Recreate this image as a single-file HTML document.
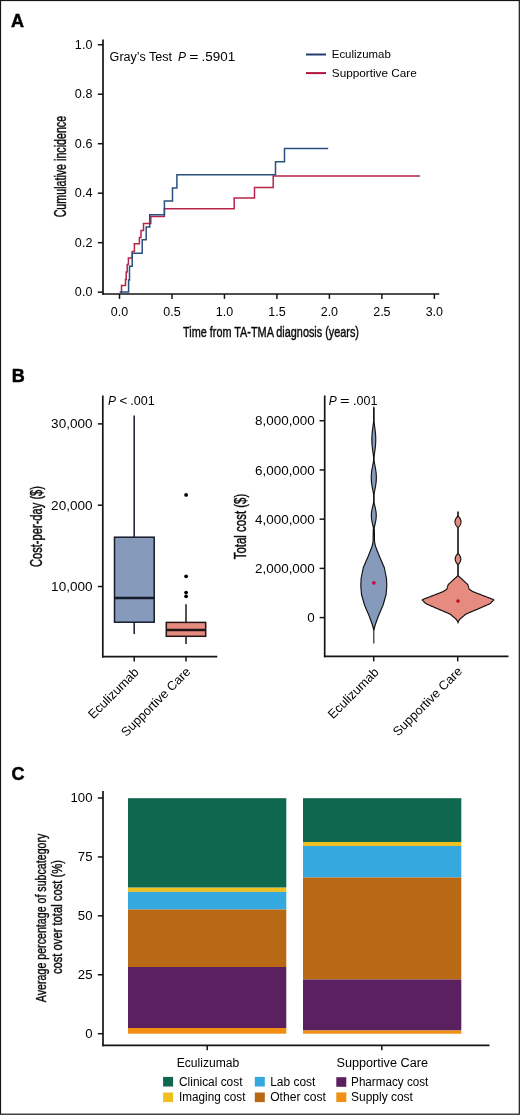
<!DOCTYPE html><html><head><meta charset="utf-8"><style>
html,body{margin:0;padding:0;background:#fff;}
svg{display:block;font-family:"Liberation Sans", sans-serif;}
</style></head><body>
<div style="will-change:transform">
<svg width="520" height="1115" viewBox="0 0 520 1115">
<rect x="0" y="0" width="520" height="1115" fill="#fff"/>
<rect x="0.5" y="0.5" width="518.8" height="1113.7" fill="none" stroke="#151515" stroke-width="1.2"/>
<text x="11.0" y="26.9" font-size="18" text-anchor="start" font-weight="bold" fill="#000" stroke="#000" stroke-width="0.5">A</text>
<line x1="103.0" y1="39.6" x2="103.0" y2="294.8" stroke="#151515" stroke-width="1.7" />
<line x1="102.2" y1="294.0" x2="439.2" y2="294.0" stroke="#151515" stroke-width="1.7" />
<line x1="97.8" y1="292.15" x2="103.0" y2="292.15" stroke="#151515" stroke-width="1.5" />
<text x="92.4" y="296.34999999999997" font-size="12" text-anchor="end" textLength="17.51" lengthAdjust="spacingAndGlyphs" >0.0</text>
<line x1="97.8" y1="242.66999999999996" x2="103.0" y2="242.66999999999996" stroke="#151515" stroke-width="1.5" />
<text x="92.4" y="246.86999999999995" font-size="12" text-anchor="end" textLength="17.51" lengthAdjust="spacingAndGlyphs" >0.2</text>
<line x1="97.8" y1="193.18999999999997" x2="103.0" y2="193.18999999999997" stroke="#151515" stroke-width="1.5" />
<text x="92.4" y="197.38999999999996" font-size="12" text-anchor="end" textLength="17.51" lengthAdjust="spacingAndGlyphs" >0.4</text>
<line x1="97.8" y1="143.70999999999998" x2="103.0" y2="143.70999999999998" stroke="#151515" stroke-width="1.5" />
<text x="92.4" y="147.90999999999997" font-size="12" text-anchor="end" textLength="17.51" lengthAdjust="spacingAndGlyphs" >0.6</text>
<line x1="97.8" y1="94.22999999999996" x2="103.0" y2="94.22999999999996" stroke="#151515" stroke-width="1.5" />
<text x="92.4" y="98.42999999999996" font-size="12" text-anchor="end" textLength="17.51" lengthAdjust="spacingAndGlyphs" >0.8</text>
<line x1="97.8" y1="44.74999999999997" x2="103.0" y2="44.74999999999997" stroke="#151515" stroke-width="1.5" />
<text x="92.4" y="48.949999999999974" font-size="12" text-anchor="end" textLength="17.51" lengthAdjust="spacingAndGlyphs" >1.0</text>
<line x1="119.5" y1="294.0" x2="119.5" y2="298.9" stroke="#151515" stroke-width="1.5" />
<text x="119.5" y="315.8" font-size="12" text-anchor="middle" textLength="17.35" lengthAdjust="spacingAndGlyphs" >0.0</text>
<line x1="171.975" y1="294.0" x2="171.975" y2="298.9" stroke="#151515" stroke-width="1.5" />
<text x="171.975" y="315.8" font-size="12" text-anchor="middle" textLength="17.35" lengthAdjust="spacingAndGlyphs" >0.5</text>
<line x1="224.45" y1="294.0" x2="224.45" y2="298.9" stroke="#151515" stroke-width="1.5" />
<text x="224.45" y="315.8" font-size="12" text-anchor="middle" textLength="17.35" lengthAdjust="spacingAndGlyphs" >1.0</text>
<line x1="276.925" y1="294.0" x2="276.925" y2="298.9" stroke="#151515" stroke-width="1.5" />
<text x="276.925" y="315.8" font-size="12" text-anchor="middle" textLength="17.35" lengthAdjust="spacingAndGlyphs" >1.5</text>
<line x1="329.4" y1="294.0" x2="329.4" y2="298.9" stroke="#151515" stroke-width="1.5" />
<text x="329.4" y="315.8" font-size="12" text-anchor="middle" textLength="17.35" lengthAdjust="spacingAndGlyphs" >2.0</text>
<line x1="381.875" y1="294.0" x2="381.875" y2="298.9" stroke="#151515" stroke-width="1.5" />
<text x="381.875" y="315.8" font-size="12" text-anchor="middle" textLength="17.35" lengthAdjust="spacingAndGlyphs" >2.5</text>
<line x1="434.35" y1="294.0" x2="434.35" y2="298.9" stroke="#151515" stroke-width="1.5" />
<text x="434.35" y="315.8" font-size="12" text-anchor="middle" textLength="17.35" lengthAdjust="spacingAndGlyphs" >3.0</text>
<text x="271" y="337.4" font-size="15.2" text-anchor="middle" textLength="176" lengthAdjust="spacingAndGlyphs" stroke="#1a1a1a" stroke-width="0.45">Time from TA-TMA diagnosis (years)</text>
<text x="65.7" y="166.6" font-size="15.6" text-anchor="middle" textLength="101.5" lengthAdjust="spacingAndGlyphs" transform="rotate(-90 65.7 166.6)" stroke="#1a1a1a" stroke-width="0.45">Cumulative incidence</text>
<text x="109.6" y="61.0" font-size="12" text-anchor="start" textLength="62.5" lengthAdjust="spacingAndGlyphs" >Gray’s Test</text>
<text x="178.0" y="61.0" font-size="12" text-anchor="start" font-style="italic" >P</text>
<text x="189.2" y="61.0" font-size="12" text-anchor="start" textLength="9.2" lengthAdjust="spacingAndGlyphs" >=</text>
<text x="201.6" y="61.0" font-size="12" text-anchor="start" textLength="33.6" lengthAdjust="spacingAndGlyphs" >.5901</text>
<line x1="306" y1="54.5" x2="326" y2="54.5" stroke="#22406e" stroke-width="2.0" />
<line x1="306" y1="73.1" x2="326" y2="73.1" stroke="#b3163e" stroke-width="2.0" />
<text x="331.8" y="58.4" font-size="11.6" text-anchor="start" textLength="59" lengthAdjust="spacingAndGlyphs" >Eculizumab</text>
<text x="331.8" y="77.2" font-size="11.6" text-anchor="start" textLength="85" lengthAdjust="spacingAndGlyphs" >Supportive Care</text>
<polyline points="119.8,292.1 121.5,292.1 121.5,285.4 125.5,285.4 125.5,279.6 126.2,279.6 126.2,272 127.2,272 127.2,264.6 128.4,264.6 128.4,258 132.2,258 132.2,251.5 134.4,251.5 134.4,243.8 139.4,243.8 139.4,237.5 141,237.5 141,230.6 143.5,230.6 143.5,223.5 150.8,223.5 150.8,216.5 164.4,216.5 164.4,208.8 234.2,208.8 234.2,198 254.5,198 254.5,187.5 273.2,187.5 273.2,175.9 420,175.9" fill="none" stroke="#b7264a" stroke-width="1.5" stroke-linejoin="miter"/>
<polyline points="119.8,292.1 128.6,292.1 128.6,280 129.5,280 129.5,266.2 132.2,266.2 132.2,253.3 142.2,253.3 142.2,239.8 146.2,239.8 146.2,226.9 149.7,226.9 149.7,214.8 164.4,214.8 164.4,200.9 172.5,200.9 172.5,188.1 176.9,188.1 176.9,174.8 275.5,174.8 275.5,161.8 284.5,161.8 284.5,148.6 328.2,148.6" fill="none" stroke="#29507f" stroke-width="1.5" stroke-linejoin="miter"/>
<text x="11.8" y="382.4" font-size="18" text-anchor="start" font-weight="bold" fill="#000" stroke="#000" stroke-width="0.5">B</text>
<line x1="102.8" y1="395.5" x2="102.8" y2="657.4" stroke="#151515" stroke-width="1.7" />
<line x1="102.0" y1="656.6" x2="217.3" y2="656.6" stroke="#151515" stroke-width="1.7" />
<line x1="97.8" y1="586.5" x2="102.8" y2="586.5" stroke="#151515" stroke-width="1.5" />
<text x="92.6" y="591.0" font-size="12" text-anchor="end" textLength="41.47" lengthAdjust="spacingAndGlyphs" >10,000</text>
<line x1="97.8" y1="505.19999999999993" x2="102.8" y2="505.19999999999993" stroke="#151515" stroke-width="1.5" />
<text x="92.6" y="509.69999999999993" font-size="12" text-anchor="end" textLength="41.47" lengthAdjust="spacingAndGlyphs" >20,000</text>
<line x1="97.8" y1="423.9" x2="102.8" y2="423.9" stroke="#151515" stroke-width="1.5" />
<text x="92.6" y="428.4" font-size="12" text-anchor="end" textLength="41.47" lengthAdjust="spacingAndGlyphs" >30,000</text>
<line x1="134.2" y1="656.6" x2="134.2" y2="661.6" stroke="#151515" stroke-width="1.5" />
<line x1="186.0" y1="656.6" x2="186.0" y2="661.6" stroke="#151515" stroke-width="1.5" />
<text x="42.2" y="526.5" font-size="16.0" text-anchor="middle" textLength="81" lengthAdjust="spacingAndGlyphs" transform="rotate(-90 42.2 526.5)" stroke="#1a1a1a" stroke-width="0.45">Cost-per-day ($)</text>
<text x="107.9" y="405.0" font-size="12" text-anchor="start" font-style="italic" >P</text>
<text x="119.6" y="405.0" font-size="12" text-anchor="start" textLength="7.8" lengthAdjust="spacingAndGlyphs" >&lt;</text>
<text x="130.3" y="405.0" font-size="12" text-anchor="start" textLength="24.4" lengthAdjust="spacingAndGlyphs" >.001</text>
<line x1="134.2" y1="415.5" x2="134.2" y2="537.2" stroke="#161b2a" stroke-width="1.5" />
<line x1="134.2" y1="622.2" x2="134.2" y2="634" stroke="#161b2a" stroke-width="1.5" />
<rect x="114.5" y="537.2" width="39.7" height="85" fill="#869abc" stroke="#161b2a" stroke-width="1.5"/>
<line x1="114.5" y1="598" x2="154.2" y2="598" stroke="#161b2a" stroke-width="2.4" />
<line x1="186" y1="604.3" x2="186" y2="622.4" stroke="#221515" stroke-width="1.5" />
<line x1="186" y1="636.3" x2="186" y2="643.9" stroke="#221515" stroke-width="1.5" />
<rect x="166.3" y="622.4" width="39.4" height="13.9" fill="#e68b80" stroke="#221515" stroke-width="1.5"/>
<line x1="166.3" y1="630" x2="205.7" y2="630" stroke="#221515" stroke-width="2.4" />
<circle cx="186.1" cy="494.9" r="1.9" fill="#000"/>
<circle cx="186.1" cy="576.3" r="1.9" fill="#000"/>
<circle cx="186.1" cy="592.6" r="1.9" fill="#000"/>
<circle cx="186.1" cy="596.3" r="1.9" fill="#000"/>
<text x="139.6" y="673.0" font-size="12.7" text-anchor="end" transform="rotate(-45 139.6 673.0)" >Eculizumab</text>
<text x="191.2" y="672.5" font-size="12.7" text-anchor="end" transform="rotate(-45 191.2 672.5)" >Supportive Care</text>
<line x1="324.7" y1="395.5" x2="324.7" y2="657.1999999999999" stroke="#151515" stroke-width="1.7" />
<line x1="323.9" y1="656.4" x2="508.5" y2="656.4" stroke="#151515" stroke-width="1.7" />
<line x1="319.6" y1="617.6" x2="324.7" y2="617.6" stroke="#151515" stroke-width="1.5" />
<text x="314.8" y="622.3000000000001" font-size="12" text-anchor="end" textLength="7.47" lengthAdjust="spacingAndGlyphs" >0</text>
<line x1="319.6" y1="568.38" x2="324.7" y2="568.38" stroke="#151515" stroke-width="1.5" />
<text x="314.8" y="573.08" font-size="12" text-anchor="end" textLength="59.78" lengthAdjust="spacingAndGlyphs" >2,000,000</text>
<line x1="319.6" y1="519.1600000000001" x2="324.7" y2="519.1600000000001" stroke="#151515" stroke-width="1.5" />
<text x="314.8" y="523.8600000000001" font-size="12" text-anchor="end" textLength="59.78" lengthAdjust="spacingAndGlyphs" >4,000,000</text>
<line x1="319.6" y1="469.94000000000005" x2="324.7" y2="469.94000000000005" stroke="#151515" stroke-width="1.5" />
<text x="314.8" y="474.64000000000004" font-size="12" text-anchor="end" textLength="59.78" lengthAdjust="spacingAndGlyphs" >6,000,000</text>
<line x1="319.6" y1="420.72" x2="324.7" y2="420.72" stroke="#151515" stroke-width="1.5" />
<text x="314.8" y="425.42" font-size="12" text-anchor="end" textLength="59.78" lengthAdjust="spacingAndGlyphs" >8,000,000</text>
<line x1="373.7" y1="656.4" x2="373.7" y2="661.4" stroke="#151515" stroke-width="1.5" />
<line x1="457.7" y1="656.4" x2="457.7" y2="661.4" stroke="#151515" stroke-width="1.5" />
<text x="245.8" y="526.5" font-size="15.8" text-anchor="middle" textLength="65.5" lengthAdjust="spacingAndGlyphs" transform="rotate(-90 245.8 526.5)" stroke="#1a1a1a" stroke-width="0.45">Total cost ($)</text>
<text x="328.7" y="404.8" font-size="12" text-anchor="start" font-style="italic" >P</text>
<text x="340.0" y="404.8" font-size="12" text-anchor="start" textLength="9.6" lengthAdjust="spacingAndGlyphs" >=</text>
<text x="353.0" y="404.8" font-size="12" text-anchor="start" textLength="24.4" lengthAdjust="spacingAndGlyphs" >.001</text>
<text x="379.4" y="673.0" font-size="12.7" text-anchor="end" transform="rotate(-45 379.4 673.0)" >Eculizumab</text>
<text x="462.9" y="672.0" font-size="12.7" text-anchor="end" transform="rotate(-45 462.9 672.0)" >Supportive Care</text>
<line x1="373.8" y1="406.5" x2="373.8" y2="643.4" stroke="#1a1a1a" stroke-width="1.1" />
<polygon points="373.65,408.00 373.65,408.50 373.65,409.00 373.65,409.50 373.65,410.00 373.65,410.50 373.65,411.00 373.65,411.50 373.65,412.00 373.65,412.50 373.65,413.00 373.65,413.50 373.65,414.00 373.65,414.50 373.65,415.00 373.65,415.50 373.65,416.00 373.65,416.50 373.65,417.00 373.65,417.50 373.65,418.00 373.65,418.50 373.65,419.00 373.65,419.50 373.65,420.00 373.65,420.50 373.65,421.00 373.61,421.50 373.56,422.00 373.50,422.50 373.44,423.00 373.37,423.50 373.31,424.00 373.24,424.50 373.17,425.00 373.10,425.50 373.03,426.00 372.96,426.50 372.89,427.00 372.82,427.50 372.75,428.00 372.69,428.50 372.62,429.00 372.56,429.50 372.49,430.00 372.43,430.50 372.37,431.00 372.32,431.50 372.26,432.00 372.21,432.50 372.17,433.00 372.12,433.50 372.08,434.00 372.04,434.50 372.00,435.00 371.97,435.50 371.94,436.00 371.92,436.50 371.90,437.00 371.88,437.50 371.87,438.00 371.86,438.50 371.85,439.00 371.85,439.50 371.85,440.00 371.86,440.50 371.87,441.00 371.88,441.50 371.90,442.00 371.92,442.50 371.94,443.00 371.97,443.50 372.00,444.00 372.04,444.50 372.08,445.00 372.12,445.50 372.17,446.00 372.21,446.50 372.26,447.00 372.32,447.50 372.37,448.00 372.43,448.50 372.49,449.00 372.56,449.50 372.62,450.00 372.69,450.50 372.75,451.00 372.82,451.50 372.89,452.00 372.96,452.50 373.03,453.00 373.10,453.50 373.17,454.00 373.24,454.50 373.31,455.00 373.37,455.50 373.44,456.00 373.50,456.50 373.56,457.00 373.61,457.50 373.65,458.00 373.65,458.50 373.65,459.00 373.65,459.50 373.65,460.00 373.59,460.50 373.52,461.00 373.43,461.50 373.35,462.00 373.25,462.50 373.16,463.00 373.06,463.50 372.97,464.00 372.87,464.50 372.77,465.00 372.67,465.50 372.57,466.00 372.48,466.50 372.38,467.00 372.29,467.50 372.20,468.00 372.11,468.50 372.02,469.00 371.94,469.50 371.86,470.00 371.79,470.50 371.72,471.00 371.65,471.50 371.59,472.00 371.53,472.50 371.48,473.00 371.43,473.50 371.39,474.00 371.35,474.50 371.32,475.00 371.30,475.50 371.28,476.00 371.26,476.50 371.25,477.00 371.25,477.50 371.25,478.00 371.26,478.50 371.28,479.00 371.30,479.50 371.32,480.00 371.35,480.50 371.39,481.00 371.43,481.50 371.48,482.00 371.53,482.50 371.59,483.00 371.65,483.50 371.72,484.00 371.79,484.50 371.86,485.00 371.94,485.50 372.02,486.00 372.11,486.50 372.20,487.00 372.29,487.50 372.38,488.00 372.48,488.50 372.57,489.00 372.67,489.50 372.77,490.00 372.87,490.50 372.97,491.00 373.06,491.50 373.16,492.00 373.25,492.50 373.35,493.00 373.43,493.50 373.52,494.00 373.59,494.50 373.65,495.00 373.65,495.50 373.65,496.00 373.65,496.50 373.65,497.00 373.65,497.50 373.65,498.00 373.65,498.50 373.65,499.00 373.65,499.50 373.65,500.00 373.65,500.50 373.65,501.00 373.65,501.50 373.65,502.00 373.57,502.50 373.48,503.00 373.37,503.50 373.25,504.00 373.14,504.50 373.02,505.00 372.89,505.50 372.77,506.00 372.65,506.50 372.53,507.00 372.41,507.50 372.30,508.00 372.19,508.50 372.08,509.00 371.98,509.50 371.88,510.00 371.80,510.50 371.71,511.00 371.64,511.50 371.57,512.00 371.52,512.50 371.47,513.00 371.42,513.50 371.39,514.00 371.37,514.50 371.35,515.00 371.35,515.50 371.35,516.00 371.37,516.50 371.39,517.00 371.42,517.50 371.47,518.00 371.52,518.50 371.57,519.00 371.64,519.50 371.71,520.00 371.80,520.50 371.88,521.00 371.98,521.50 372.08,522.00 372.19,522.50 372.30,523.00 372.41,523.50 372.53,524.00 372.65,524.50 372.77,525.00 372.89,525.50 373.02,526.00 373.14,526.50 373.25,527.00 373.37,527.50 373.48,528.00 373.57,528.50 373.30,529.00 373.29,529.50 373.28,530.00 373.28,530.50 373.27,531.00 373.26,531.50 373.25,532.00 373.24,532.50 373.23,533.00 373.23,533.50 373.22,534.00 373.21,534.50 373.20,535.00 373.19,535.50 373.18,536.00 373.18,536.50 373.17,537.00 373.16,537.50 373.15,538.00 373.14,538.50 373.13,539.00 373.12,539.50 373.12,540.00 373.11,540.50 373.10,541.00 373.03,541.50 372.97,542.00 372.90,542.50 372.83,543.00 372.77,543.50 372.70,544.00 372.55,544.50 372.40,545.00 372.25,545.50 372.10,546.00 371.95,546.50 371.80,547.00 371.61,547.50 371.43,548.00 371.24,548.50 371.05,549.00 370.86,549.50 370.68,550.00 370.49,550.50 370.30,551.00 370.10,551.50 369.89,552.00 369.69,552.50 369.49,553.00 369.28,553.50 369.08,554.00 368.88,554.50 368.67,555.00 368.47,555.50 368.27,556.00 368.06,556.50 367.86,557.00 367.64,557.50 367.43,558.00 367.21,558.50 367.00,559.00 366.78,559.50 366.57,560.00 366.35,560.50 366.14,561.00 365.92,561.50 365.71,562.00 365.49,562.50 365.28,563.00 365.06,563.50 364.85,564.00 364.63,564.50 364.42,565.00 364.20,565.50 363.99,566.00 363.77,566.50 363.56,567.00 363.34,567.50 363.22,568.00 363.12,568.50 363.01,569.00 362.91,569.50 362.81,570.00 362.71,570.50 362.61,571.00 362.51,571.50 362.40,572.00 362.30,572.50 362.20,573.00 362.10,573.50 362.00,574.00 361.89,574.50 361.79,575.00 361.69,575.50 361.59,576.00 361.49,576.50 361.39,577.00 361.28,577.50 361.18,578.00 361.10,578.50 361.08,579.00 361.06,579.50 361.04,580.00 361.02,580.50 361.00,581.00 360.98,581.50 360.96,582.00 360.94,582.50 360.92,583.00 360.90,583.50 360.88,584.00 360.86,584.50 360.84,585.00 360.82,585.50 360.81,586.00 360.85,586.50 360.89,587.00 360.93,587.50 360.97,588.00 361.01,588.50 361.05,589.00 361.09,589.50 361.13,590.00 361.17,590.50 361.22,591.00 361.26,591.50 361.30,592.00 361.34,592.50 361.38,593.00 361.42,593.50 361.46,594.00 361.50,594.50 361.64,595.00 361.79,595.50 361.93,596.00 362.07,596.50 362.22,597.00 362.36,597.50 362.50,598.00 362.65,598.50 362.79,599.00 362.94,599.50 363.08,600.00 363.22,600.50 363.37,601.00 363.51,601.50 363.65,602.00 363.80,602.50 363.94,603.00 364.08,603.50 364.23,604.00 364.37,604.50 364.51,605.00 364.69,605.50 364.90,606.00 365.12,606.50 365.33,607.00 365.55,607.50 365.76,608.00 365.98,608.50 366.19,609.00 366.41,609.50 366.62,610.00 366.84,610.50 367.05,611.00 367.27,611.50 367.48,612.00 367.70,612.50 367.91,613.00 368.13,613.50 368.34,614.00 368.56,614.50 368.77,615.00 368.99,615.50 369.20,616.00 369.38,616.50 369.56,617.00 369.74,617.50 369.92,618.00 370.10,618.50 370.28,619.00 370.46,619.50 370.64,620.00 370.82,620.50 371.00,621.00 371.18,621.50 371.36,622.00 371.54,622.50 371.72,623.00 371.90,623.50 372.08,624.00 372.26,624.50 372.41,625.00 372.55,625.50 372.69,626.00 372.83,626.50 372.97,627.00 373.11,627.50 373.24,628.00 373.38,628.50 373.52,629.00 373.66,629.50 373.80,630.00 373.80,630.00 373.94,629.50 374.08,629.00 374.22,628.50 374.36,628.00 374.49,627.50 374.63,627.00 374.77,626.50 374.91,626.00 375.05,625.50 375.19,625.00 375.34,624.50 375.52,624.00 375.70,623.50 375.88,623.00 376.06,622.50 376.24,622.00 376.42,621.50 376.60,621.00 376.78,620.50 376.96,620.00 377.14,619.50 377.32,619.00 377.50,618.50 377.68,618.00 377.86,617.50 378.04,617.00 378.22,616.50 378.40,616.00 378.61,615.50 378.83,615.00 379.04,614.50 379.26,614.00 379.47,613.50 379.69,613.00 379.90,612.50 380.12,612.00 380.33,611.50 380.55,611.00 380.76,610.50 380.98,610.00 381.19,609.50 381.41,609.00 381.62,608.50 381.84,608.00 382.05,607.50 382.27,607.00 382.48,606.50 382.70,606.00 382.91,605.50 383.09,605.00 383.23,604.50 383.37,604.00 383.52,603.50 383.66,603.00 383.80,602.50 383.95,602.00 384.09,601.50 384.23,601.00 384.38,600.50 384.52,600.00 384.66,599.50 384.81,599.00 384.95,598.50 385.10,598.00 385.24,597.50 385.38,597.00 385.53,596.50 385.67,596.00 385.81,595.50 385.96,595.00 386.10,594.50 386.14,594.00 386.18,593.50 386.22,593.00 386.26,592.50 386.30,592.00 386.34,591.50 386.38,591.00 386.43,590.50 386.47,590.00 386.51,589.50 386.55,589.00 386.59,588.50 386.63,588.00 386.67,587.50 386.71,587.00 386.75,586.50 386.79,586.00 386.78,585.50 386.76,585.00 386.74,584.50 386.72,584.00 386.70,583.50 386.68,583.00 386.66,582.50 386.64,582.00 386.62,581.50 386.60,581.00 386.58,580.50 386.56,580.00 386.54,579.50 386.52,579.00 386.50,578.50 386.42,578.00 386.32,577.50 386.21,577.00 386.11,576.50 386.01,576.00 385.91,575.50 385.81,575.00 385.71,574.50 385.60,574.00 385.50,573.50 385.40,573.00 385.30,572.50 385.20,572.00 385.09,571.50 384.99,571.00 384.89,570.50 384.79,570.00 384.69,569.50 384.59,569.00 384.48,568.50 384.38,568.00 384.26,567.50 384.04,567.00 383.83,566.50 383.61,566.00 383.40,565.50 383.18,565.00 382.97,564.50 382.75,564.00 382.54,563.50 382.32,563.00 382.11,562.50 381.89,562.00 381.68,561.50 381.46,561.00 381.25,560.50 381.03,560.00 380.82,559.50 380.60,559.00 380.39,558.50 380.17,558.00 379.96,557.50 379.74,557.00 379.54,556.50 379.33,556.00 379.13,555.50 378.93,555.00 378.72,554.50 378.52,554.00 378.32,553.50 378.11,553.00 377.91,552.50 377.71,552.00 377.50,551.50 377.30,551.00 377.11,550.50 376.93,550.00 376.74,549.50 376.55,549.00 376.36,548.50 376.18,548.00 375.99,547.50 375.80,547.00 375.65,546.50 375.50,546.00 375.35,545.50 375.20,545.00 375.05,544.50 374.90,544.00 374.83,543.50 374.77,543.00 374.70,542.50 374.63,542.00 374.57,541.50 374.50,541.00 374.49,540.50 374.48,540.00 374.48,539.50 374.47,539.00 374.46,538.50 374.45,538.00 374.44,537.50 374.43,537.00 374.43,536.50 374.42,536.00 374.41,535.50 374.40,535.00 374.39,534.50 374.38,534.00 374.38,533.50 374.37,533.00 374.36,532.50 374.35,532.00 374.34,531.50 374.33,531.00 374.32,530.50 374.32,530.00 374.31,529.50 374.30,529.00 374.03,528.50 374.12,528.00 374.23,527.50 374.35,527.00 374.46,526.50 374.58,526.00 374.71,525.50 374.83,525.00 374.95,524.50 375.07,524.00 375.19,523.50 375.30,523.00 375.41,522.50 375.52,522.00 375.62,521.50 375.72,521.00 375.80,520.50 375.89,520.00 375.96,519.50 376.03,519.00 376.08,518.50 376.13,518.00 376.18,517.50 376.21,517.00 376.23,516.50 376.25,516.00 376.25,515.50 376.25,515.00 376.23,514.50 376.21,514.00 376.18,513.50 376.13,513.00 376.08,512.50 376.03,512.00 375.96,511.50 375.89,511.00 375.80,510.50 375.72,510.00 375.62,509.50 375.52,509.00 375.41,508.50 375.30,508.00 375.19,507.50 375.07,507.00 374.95,506.50 374.83,506.00 374.71,505.50 374.58,505.00 374.46,504.50 374.35,504.00 374.23,503.50 374.12,503.00 374.03,502.50 373.95,502.00 373.95,501.50 373.95,501.00 373.95,500.50 373.95,500.00 373.95,499.50 373.95,499.00 373.95,498.50 373.95,498.00 373.95,497.50 373.95,497.00 373.95,496.50 373.95,496.00 373.95,495.50 373.95,495.00 374.01,494.50 374.08,494.00 374.17,493.50 374.25,493.00 374.35,492.50 374.44,492.00 374.54,491.50 374.63,491.00 374.73,490.50 374.83,490.00 374.93,489.50 375.03,489.00 375.12,488.50 375.22,488.00 375.31,487.50 375.40,487.00 375.49,486.50 375.58,486.00 375.66,485.50 375.74,485.00 375.81,484.50 375.88,484.00 375.95,483.50 376.01,483.00 376.07,482.50 376.12,482.00 376.17,481.50 376.21,481.00 376.25,480.50 376.28,480.00 376.30,479.50 376.32,479.00 376.34,478.50 376.35,478.00 376.35,477.50 376.35,477.00 376.34,476.50 376.32,476.00 376.30,475.50 376.28,475.00 376.25,474.50 376.21,474.00 376.17,473.50 376.12,473.00 376.07,472.50 376.01,472.00 375.95,471.50 375.88,471.00 375.81,470.50 375.74,470.00 375.66,469.50 375.58,469.00 375.49,468.50 375.40,468.00 375.31,467.50 375.22,467.00 375.12,466.50 375.03,466.00 374.93,465.50 374.83,465.00 374.73,464.50 374.63,464.00 374.54,463.50 374.44,463.00 374.35,462.50 374.25,462.00 374.17,461.50 374.08,461.00 374.01,460.50 373.95,460.00 373.95,459.50 373.95,459.00 373.95,458.50 373.95,458.00 373.99,457.50 374.04,457.00 374.10,456.50 374.16,456.00 374.23,455.50 374.29,455.00 374.36,454.50 374.43,454.00 374.50,453.50 374.57,453.00 374.64,452.50 374.71,452.00 374.78,451.50 374.85,451.00 374.91,450.50 374.98,450.00 375.04,449.50 375.11,449.00 375.17,448.50 375.23,448.00 375.28,447.50 375.34,447.00 375.39,446.50 375.43,446.00 375.48,445.50 375.52,445.00 375.56,444.50 375.60,444.00 375.63,443.50 375.66,443.00 375.68,442.50 375.70,442.00 375.72,441.50 375.73,441.00 375.74,440.50 375.75,440.00 375.75,439.50 375.75,439.00 375.74,438.50 375.73,438.00 375.72,437.50 375.70,437.00 375.68,436.50 375.66,436.00 375.63,435.50 375.60,435.00 375.56,434.50 375.52,434.00 375.48,433.50 375.43,433.00 375.39,432.50 375.34,432.00 375.28,431.50 375.23,431.00 375.17,430.50 375.11,430.00 375.04,429.50 374.98,429.00 374.91,428.50 374.85,428.00 374.78,427.50 374.71,427.00 374.64,426.50 374.57,426.00 374.50,425.50 374.43,425.00 374.36,424.50 374.29,424.00 374.23,423.50 374.16,423.00 374.10,422.50 374.04,422.00 373.99,421.50 373.95,421.00 373.95,420.50 373.95,420.00 373.95,419.50 373.95,419.00 373.95,418.50 373.95,418.00 373.95,417.50 373.95,417.00 373.95,416.50 373.95,416.00 373.95,415.50 373.95,415.00 373.95,414.50 373.95,414.00 373.95,413.50 373.95,413.00 373.95,412.50 373.95,412.00 373.95,411.50 373.95,411.00 373.95,410.50 373.95,410.00 373.95,409.50 373.95,409.00 373.95,408.50 373.95,408.00" fill="#869abc" stroke="#111" stroke-width="1.15" stroke-linejoin="round"/>
<circle cx="373.8" cy="582.8" r="1.9" fill="#c0104a"/>
<line x1="458" y1="511.6" x2="458" y2="623.6" stroke="#1a1a1a" stroke-width="1.1" />
<polygon points="458.00,512.00 458.00,512.40 458.00,512.80 458.00,513.20 458.00,513.60 458.00,514.00 458.00,514.40 458.00,514.80 458.00,515.20 458.00,515.60 458.00,516.00 457.59,516.40 457.20,516.80 456.86,517.20 456.55,517.60 456.28,518.00 456.03,518.40 455.80,518.80 455.61,519.20 455.44,519.60 455.29,520.00 455.18,520.40 455.09,520.80 455.03,521.20 455.00,521.60 455.00,522.00 455.03,522.40 455.09,522.80 455.18,523.20 455.29,523.60 455.44,524.00 455.61,524.40 455.80,524.80 456.03,525.20 456.28,525.60 456.55,526.00 456.86,526.40 457.20,526.80 457.59,527.20 458.00,527.60 458.00,528.00 458.00,528.40 458.00,528.80 458.00,529.20 458.00,529.60 458.00,530.00 458.00,530.40 458.00,530.80 458.00,531.20 458.00,531.60 458.00,532.00 458.00,532.40 458.00,532.80 458.00,533.20 458.00,533.60 458.00,534.00 458.00,534.40 458.00,534.80 458.00,535.20 458.00,535.60 458.00,536.00 458.00,536.40 458.00,536.80 458.00,537.20 458.00,537.60 458.00,538.00 458.00,538.40 458.00,538.80 458.00,539.20 458.00,539.60 458.00,540.00 458.00,540.40 458.00,540.80 458.00,541.20 458.00,541.60 458.00,542.00 458.00,542.40 458.00,542.80 458.00,543.20 458.00,543.60 458.00,544.00 458.00,544.40 458.00,544.80 458.00,545.20 458.00,545.60 458.00,546.00 458.00,546.40 458.00,546.80 458.00,547.20 458.00,547.60 458.00,548.00 458.00,548.40 458.00,548.80 458.00,549.20 458.00,549.60 458.00,550.00 458.00,550.40 458.00,550.80 458.00,551.20 458.00,551.60 458.00,552.00 458.00,552.40 458.00,552.80 458.00,553.20 457.84,553.60 457.42,554.00 457.07,554.40 456.76,554.80 456.49,555.20 456.24,555.60 456.02,556.00 455.82,556.40 455.65,556.80 455.50,557.20 455.39,557.60 455.30,558.00 455.24,558.40 455.21,558.80 455.20,559.20 455.23,559.60 455.28,560.00 455.36,560.40 455.47,560.80 455.61,561.20 455.77,561.60 455.96,562.00 456.18,562.40 456.42,562.80 456.69,563.20 456.99,563.60 457.32,564.00 457.72,564.40 458.00,564.80 458.00,565.20 458.00,565.60 458.00,566.00 458.00,566.40 458.00,566.80 458.00,567.20 458.00,567.60 458.00,568.00 458.00,568.40 458.00,568.80 458.00,569.20 458.00,569.60 458.00,570.00 458.00,570.40 458.00,570.80 458.00,571.20 458.00,571.60 458.00,572.00 458.00,572.40 458.00,572.80 458.00,573.20 458.00,573.60 458.00,574.00 458.00,574.40 458.00,574.80 458.00,575.20 458.00,575.60 457.56,576.00 457.12,576.40 456.68,576.80 456.23,577.20 455.79,577.60 455.35,578.00 454.91,578.40 454.47,578.80 454.02,579.20 453.58,579.60 453.14,580.00 452.70,580.40 452.27,580.80 451.84,581.20 451.42,581.60 450.99,582.00 450.56,582.40 450.13,582.80 449.70,583.20 449.28,583.60 448.85,584.00 448.42,584.40 448.07,584.80 447.96,585.20 447.84,585.60 447.72,586.00 447.61,586.40 447.49,586.80 447.38,587.20 447.26,587.60 447.15,588.00 447.03,588.40 446.92,588.80 446.80,589.20 446.20,589.60 445.60,590.00 445.00,590.40 444.40,590.80 443.80,591.20 443.20,591.60 442.17,592.00 441.13,592.40 440.10,592.80 439.06,593.20 438.03,593.60 437.00,594.00 435.96,594.40 434.93,594.80 433.89,595.20 432.86,595.60 431.82,596.00 430.79,596.40 429.76,596.80 428.72,597.20 427.69,597.60 426.65,598.00 425.62,598.40 424.59,598.80 423.55,599.20 422.52,599.60 422.20,600.00 422.60,600.40 423.00,600.80 423.40,601.20 423.80,601.60 424.20,602.00 424.60,602.40 425.00,602.80 425.40,603.20 425.80,603.60 426.59,604.00 427.52,604.40 428.44,604.80 429.36,605.20 430.28,605.60 431.21,606.00 432.13,606.40 433.05,606.80 433.98,607.20 434.90,607.60 435.82,608.00 436.75,608.40 437.67,608.80 438.61,609.20 439.56,609.60 440.50,610.00 441.45,610.40 442.39,610.80 443.34,611.20 444.29,611.60 445.23,612.00 446.18,612.40 447.12,612.80 448.07,613.20 449.02,613.60 449.96,614.00 450.55,614.40 451.01,614.80 451.47,615.20 451.93,615.60 452.39,616.00 452.85,616.40 453.32,616.80 453.78,617.20 454.24,617.60 454.70,618.00 455.16,618.40 455.62,618.80 456.08,619.20 456.40,619.60 456.67,620.00 456.93,620.40 457.20,620.80 457.47,621.20 457.73,621.60 458.00,622.00 458.00,622.00 458.27,621.60 458.53,621.20 458.80,620.80 459.07,620.40 459.33,620.00 459.60,619.60 459.92,619.20 460.38,618.80 460.84,618.40 461.30,618.00 461.76,617.60 462.22,617.20 462.68,616.80 463.15,616.40 463.61,616.00 464.07,615.60 464.53,615.20 464.99,614.80 465.45,614.40 466.04,614.00 466.98,613.60 467.93,613.20 468.88,612.80 469.82,612.40 470.77,612.00 471.71,611.60 472.66,611.20 473.61,610.80 474.55,610.40 475.50,610.00 476.44,609.60 477.39,609.20 478.33,608.80 479.25,608.40 480.18,608.00 481.10,607.60 482.02,607.20 482.95,606.80 483.87,606.40 484.79,606.00 485.72,605.60 486.64,605.20 487.56,604.80 488.48,604.40 489.41,604.00 490.20,603.60 490.60,603.20 491.00,602.80 491.40,602.40 491.80,602.00 492.20,601.60 492.60,601.20 493.00,600.80 493.40,600.40 493.80,600.00 493.48,599.60 492.45,599.20 491.41,598.80 490.38,598.40 489.35,598.00 488.31,597.60 487.28,597.20 486.24,596.80 485.21,596.40 484.18,596.00 483.14,595.60 482.11,595.20 481.07,594.80 480.04,594.40 479.00,594.00 477.97,593.60 476.94,593.20 475.90,592.80 474.87,592.40 473.83,592.00 472.80,591.60 472.20,591.20 471.60,590.80 471.00,590.40 470.40,590.00 469.80,589.60 469.20,589.20 469.08,588.80 468.97,588.40 468.85,588.00 468.74,587.60 468.62,587.20 468.51,586.80 468.39,586.40 468.28,586.00 468.16,585.60 468.04,585.20 467.93,584.80 467.58,584.40 467.15,584.00 466.72,583.60 466.30,583.20 465.87,582.80 465.44,582.40 465.01,582.00 464.58,581.60 464.16,581.20 463.73,580.80 463.30,580.40 462.86,580.00 462.42,579.60 461.98,579.20 461.53,578.80 461.09,578.40 460.65,578.00 460.21,577.60 459.77,577.20 459.32,576.80 458.88,576.40 458.44,576.00 458.00,575.60 458.00,575.20 458.00,574.80 458.00,574.40 458.00,574.00 458.00,573.60 458.00,573.20 458.00,572.80 458.00,572.40 458.00,572.00 458.00,571.60 458.00,571.20 458.00,570.80 458.00,570.40 458.00,570.00 458.00,569.60 458.00,569.20 458.00,568.80 458.00,568.40 458.00,568.00 458.00,567.60 458.00,567.20 458.00,566.80 458.00,566.40 458.00,566.00 458.00,565.60 458.00,565.20 458.00,564.80 458.28,564.40 458.68,564.00 459.01,563.60 459.31,563.20 459.58,562.80 459.82,562.40 460.04,562.00 460.23,561.60 460.39,561.20 460.53,560.80 460.64,560.40 460.72,560.00 460.77,559.60 460.80,559.20 460.79,558.80 460.76,558.40 460.70,558.00 460.61,557.60 460.50,557.20 460.35,556.80 460.18,556.40 459.98,556.00 459.76,555.60 459.51,555.20 459.24,554.80 458.93,554.40 458.58,554.00 458.16,553.60 458.00,553.20 458.00,552.80 458.00,552.40 458.00,552.00 458.00,551.60 458.00,551.20 458.00,550.80 458.00,550.40 458.00,550.00 458.00,549.60 458.00,549.20 458.00,548.80 458.00,548.40 458.00,548.00 458.00,547.60 458.00,547.20 458.00,546.80 458.00,546.40 458.00,546.00 458.00,545.60 458.00,545.20 458.00,544.80 458.00,544.40 458.00,544.00 458.00,543.60 458.00,543.20 458.00,542.80 458.00,542.40 458.00,542.00 458.00,541.60 458.00,541.20 458.00,540.80 458.00,540.40 458.00,540.00 458.00,539.60 458.00,539.20 458.00,538.80 458.00,538.40 458.00,538.00 458.00,537.60 458.00,537.20 458.00,536.80 458.00,536.40 458.00,536.00 458.00,535.60 458.00,535.20 458.00,534.80 458.00,534.40 458.00,534.00 458.00,533.60 458.00,533.20 458.00,532.80 458.00,532.40 458.00,532.00 458.00,531.60 458.00,531.20 458.00,530.80 458.00,530.40 458.00,530.00 458.00,529.60 458.00,529.20 458.00,528.80 458.00,528.40 458.00,528.00 458.00,527.60 458.41,527.20 458.80,526.80 459.14,526.40 459.45,526.00 459.72,525.60 459.97,525.20 460.20,524.80 460.39,524.40 460.56,524.00 460.71,523.60 460.82,523.20 460.91,522.80 460.97,522.40 461.00,522.00 461.00,521.60 460.97,521.20 460.91,520.80 460.82,520.40 460.71,520.00 460.56,519.60 460.39,519.20 460.20,518.80 459.97,518.40 459.72,518.00 459.45,517.60 459.14,517.20 458.80,516.80 458.41,516.40 458.00,516.00 458.00,515.60 458.00,515.20 458.00,514.80 458.00,514.40 458.00,514.00 458.00,513.60 458.00,513.20 458.00,512.80 458.00,512.40 458.00,512.00" fill="#e68b80" stroke="#111" stroke-width="1.15" stroke-linejoin="round"/>
<circle cx="458" cy="601.1" r="1.8" fill="#c0101a"/>
<text x="11.6" y="780.4" font-size="18" text-anchor="start" font-weight="bold" fill="#000" stroke="#000" stroke-width="0.5">C</text>
<line x1="103.0" y1="791.0" x2="103.0" y2="1046.2" stroke="#151515" stroke-width="1.7" />
<line x1="102.2" y1="1045.4" x2="489.5" y2="1045.4" stroke="#151515" stroke-width="1.7" />
<line x1="97.8" y1="1033.7" x2="103.0" y2="1033.7" stroke="#151515" stroke-width="1.5" />
<text x="92.5" y="1037.9" font-size="12" text-anchor="end" textLength="7.34" lengthAdjust="spacingAndGlyphs" >0</text>
<line x1="97.8" y1="974.7750000000001" x2="103.0" y2="974.7750000000001" stroke="#151515" stroke-width="1.5" />
<text x="92.5" y="978.9750000000001" font-size="12" text-anchor="end" textLength="14.68" lengthAdjust="spacingAndGlyphs" >25</text>
<line x1="97.8" y1="915.85" x2="103.0" y2="915.85" stroke="#151515" stroke-width="1.5" />
<text x="92.5" y="920.0500000000001" font-size="12" text-anchor="end" textLength="14.68" lengthAdjust="spacingAndGlyphs" >50</text>
<line x1="97.8" y1="856.9250000000001" x2="103.0" y2="856.9250000000001" stroke="#151515" stroke-width="1.5" />
<text x="92.5" y="861.1250000000001" font-size="12" text-anchor="end" textLength="14.68" lengthAdjust="spacingAndGlyphs" >75</text>
<line x1="97.8" y1="798.0" x2="103.0" y2="798.0" stroke="#151515" stroke-width="1.5" />
<text x="92.5" y="802.2" font-size="12" text-anchor="end" textLength="22.02" lengthAdjust="spacingAndGlyphs" >100</text>
<line x1="207.2" y1="1045.4" x2="207.2" y2="1050.2" stroke="#151515" stroke-width="1.5" />
<line x1="381.8" y1="1045.4" x2="381.8" y2="1050.2" stroke="#151515" stroke-width="1.5" />
<text x="208" y="1067.0" font-size="12" text-anchor="middle" textLength="62.5" lengthAdjust="spacingAndGlyphs" >Eculizumab</text>
<text x="382.2" y="1067.0" font-size="12" text-anchor="middle" textLength="91.5" lengthAdjust="spacingAndGlyphs" >Supportive Care</text>
<text x="46.4" y="917.9" font-size="15.4" text-anchor="middle" textLength="168.5" lengthAdjust="spacingAndGlyphs" transform="rotate(-90 46.4 917.9)" stroke="#1a1a1a" stroke-width="0.45">Average percentage of subcategory</text>
<text x="61.8" y="917.1" font-size="15.4" text-anchor="middle" textLength="114" lengthAdjust="spacingAndGlyphs" transform="rotate(-90 61.8 917.1)" stroke="#1a1a1a" stroke-width="0.45">cost over total cost (%)</text>
<rect x="128.0" y="798.2" width="158.3" height="89.39999999999998" fill="#0f674f"/>
<rect x="128.0" y="887.8" width="158.3" height="4.100000000000023" fill="#f0c020"/>
<rect x="128.0" y="891.9" width="158.3" height="17.600000000000023" fill="#34a8df"/>
<rect x="128.0" y="909.5" width="158.3" height="57.5" fill="#b96914"/>
<rect x="128.0" y="967.0" width="158.3" height="61.0" fill="#5a2060"/>
<rect x="128.0" y="1028.0" width="158.3" height="5.7000000000000455" fill="#f28f12"/>
<rect x="303.0" y="798.2" width="158.3" height="43.799999999999955" fill="#0f674f"/>
<rect x="303.0" y="842.0" width="158.3" height="4.0" fill="#f0c020"/>
<rect x="303.0" y="846.0" width="158.3" height="31.5" fill="#34a8df"/>
<rect x="303.0" y="877.5" width="158.3" height="102.0" fill="#b96914"/>
<rect x="303.0" y="979.5" width="158.3" height="51.0" fill="#5a2060"/>
<rect x="303.0" y="1030.5" width="158.3" height="3.2000000000000455" fill="#f28f12"/>
<rect x="163.1" y="1076.9" width="10" height="9.6" fill="#0f674f"/>
<rect x="163.1" y="1092.5" width="10" height="9.6" fill="#f0c020"/>
<rect x="254.8" y="1076.9" width="10" height="9.6" fill="#34a8df"/>
<rect x="254.8" y="1092.5" width="10" height="9.6" fill="#b96914"/>
<rect x="336.3" y="1077.2" width="10" height="9.6" fill="#5a2060"/>
<rect x="336.3" y="1092.4" width="10" height="9.6" fill="#f28f12"/>
<text x="179.0" y="1086.0" font-size="12" text-anchor="start" textLength="63.5" lengthAdjust="spacingAndGlyphs" >Clinical cost</text>
<text x="179.0" y="1100.6" font-size="12" text-anchor="start" textLength="66.4" lengthAdjust="spacingAndGlyphs" >Imaging cost</text>
<text x="270.2" y="1086.0" font-size="12" text-anchor="start" textLength="45.2" lengthAdjust="spacingAndGlyphs" >Lab cost</text>
<text x="270.2" y="1100.6" font-size="12" text-anchor="start" textLength="55.8" lengthAdjust="spacingAndGlyphs" >Other cost</text>
<text x="351.1" y="1086.0" font-size="12" text-anchor="start" textLength="77.2" lengthAdjust="spacingAndGlyphs" >Pharmacy cost</text>
<text x="351.1" y="1100.6" font-size="12" text-anchor="start" textLength="61.8" lengthAdjust="spacingAndGlyphs" >Supply cost</text>
</svg></div></body></html>
